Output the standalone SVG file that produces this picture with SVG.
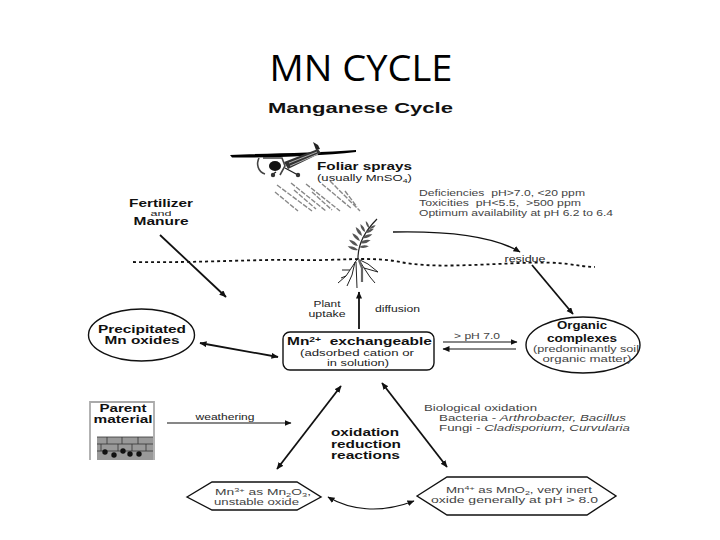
<svg xmlns="http://www.w3.org/2000/svg" width="720" height="540" viewBox="0 0 720 540">
<style>
text{font-family:"Liberation Sans",Arial,sans-serif;fill:#222;white-space:pre}
.b{font-weight:700;fill:#111}
.s{fill:#444}
.m{text-anchor:middle}
.sh{fill:#fff;stroke:#111;stroke-width:1.4}
.c{fill:none;stroke:#111;stroke-width:1.8}
.t{fill:none;stroke:#111;stroke-width:1.2}
.sp{fill:none;stroke:#888;stroke-width:1.4;stroke-dasharray:5 1.5}
.r{fill:none;stroke:#222;stroke-width:1}
</style>
<defs>
<marker id="a" markerWidth="8" markerHeight="8" refX="6.5" refY="3" orient="auto-start-reverse" markerUnits="userSpaceOnUse"><path d="M0 0L7 3L0 6z" fill="#111"/></marker>
<path id="lf" d="M0 0Q5 -3 11 0Q5 3 0 0z" fill="#555"/>
</defs>
<rect width="720" height="540" fill="#fff"/>
<text x="361" y="81" class="m" style="font-family:'Open Sans','Noto Sans',sans-serif;fill:#000" font-size="37" textLength="183" lengthAdjust="spacingAndGlyphs">MN CYCLE</text>
<text x="268" y="113" class="b" font-size="15" textLength="185" lengthAdjust="spacingAndGlyphs">Manganese Cycle</text>

<g id="connectors">
<path d="M133 262C200 263 260 259 300 260S370 256 400 262S470 265 520 263S570 266 595 267" fill="none" stroke="#111" stroke-width="1.8" stroke-dasharray="3 3"/>
<path class="c" marker-end="url(#a)" d="M160 235L226 297"/>
<path class="c" style="stroke-width:1.4" marker-end="url(#a)" d="M393 232C440 231 490 234 520 252"/>
<path class="c" marker-end="url(#a)" d="M532 265L573 314"/>
<path class="c" marker-end="url(#a)" d="M359 329V292"/>
<path class="t" marker-end="url(#a)" d="M443 342H517"/>
<path class="t" marker-end="url(#a)" d="M516 349H443"/>
<path class="c" marker-start="url(#a)" marker-end="url(#a)" d="M200 343L278 357"/>
<path class="t" marker-end="url(#a)" d="M167 423H291"/>
<path class="c" marker-start="url(#a)" marker-end="url(#a)" d="M341 386L277 469"/>
<path class="c" marker-start="url(#a)" marker-end="url(#a)" d="M382 383L447 467"/>
<path class="t" marker-start="url(#a)" marker-end="url(#a)" d="M328 497C350 510 380 514 414 501"/>
</g>

<g id="foliar-sprays">
<path d="M230 155C270 153 320 153 356 150L356 152C320 156 270 158 232 157.500z" fill="#000"/>
<path d="M313 142L318 145L320 149L316 150z" fill="#222"/>
<path d="M284 162L318 149L321 153L288 169z" fill="#333"/>
<path d="M289 163L317 152M290 166L318 154" stroke="#ccc" stroke-width=".8" fill="none"/>
<path d="M259 158C256 164 258 172 265 174M263 158H282L285 166L280 175" fill="none" stroke="#444" stroke-width="1.6"/>
<ellipse cx="275" cy="166" rx="6" ry="5" fill="#111"/>
<path d="M285 168L298 175M276 172L273 174" stroke="#222" stroke-width="1.4" fill="none"/>
<circle cx="273" cy="175" r="2.200" fill="#333"/><circle cx="298" cy="175" r="2.200" fill="#333"/>
<path class="sp" d="M275 192L298 211M277 185L312 211M291 183L326 211M294 190L316 209M306 184L340 211M312 192L332 210M322 184L352 209M330 181L360 211M345 191L357 207"/>
<text x="317" y="170" class="b" font-size="11" textLength="95" lengthAdjust="spacingAndGlyphs">Foliar sprays</text>
<text x="317" y="181" font-size="9" textLength="95" lengthAdjust="spacingAndGlyphs">(usually MnSO<tspan font-size="6" dy="2">4</tspan><tspan dy="-2">)</tspan></text>
</g>

<g id="soil-notes">
<text x="419" y="196" font-size="9" class="s" textLength="166" lengthAdjust="spacingAndGlyphs">Deficiencies  pH&gt;7.0, &lt;20 ppm</text>
<text x="419" y="206" font-size="9" class="s" textLength="162" lengthAdjust="spacingAndGlyphs">Toxicities  pH&lt;5.5,  &gt;500 ppm</text>
<text x="419" y="216" font-size="9" class="s" textLength="194" lengthAdjust="spacingAndGlyphs">Optimum availability at pH 6.2 to 6.4</text>
</g>

<g id="fertilizer">
<text x="161" y="207" class="b m" font-size="10" textLength="64" lengthAdjust="spacingAndGlyphs">Fertilizer</text>
<text x="161" y="215.500" class="m" font-size="8" textLength="21" lengthAdjust="spacingAndGlyphs">and</text>
<text x="161" y="225" class="b m" font-size="10" textLength="55" lengthAdjust="spacingAndGlyphs">Manure</text>
</g>

<g id="plant">
<path d="M358 258C358 244 364 232 377 219" fill="none" stroke="#222" stroke-width="1.200"/>
<use href="#lf" transform="translate(358 250) rotate(200)"/>
<use href="#lf" transform="translate(358 246) rotate(215)"/>
<use href="#lf" transform="translate(360 241) rotate(225)"/>
<use href="#lf" transform="translate(362 236) rotate(235)"/>
<use href="#lf" transform="translate(365 232) rotate(240) scale(.85)"/>
<use href="#lf" transform="translate(369 228) rotate(245) scale(.7)"/>
<use href="#lf" transform="translate(359 247) rotate(-5) scale(.9)"/>
<use href="#lf" transform="translate(360 243) rotate(-15)"/>
<use href="#lf" transform="translate(362 238) rotate(-20)"/>
<use href="#lf" transform="translate(365 233) rotate(-25) scale(.9)"/>
<use href="#lf" transform="translate(369 229) rotate(-30) scale(.7)"/>
<path class="r" d="M358 258L350 270L346 276L338 283M346 276L341 278M350 270L342 270M355 262L352 275L347 286M358 258L364 268L370 277L375 283M364 268L378 272M360 260L368 264L378 272"/>
<path d="M359 260L362 268V282" stroke="#666" stroke-width="2.200" fill="none"/>
<path d="M356 262L357 288" stroke="#222" stroke-width="1" fill="none"/>
</g>

<g id="residue"><text x="525" y="262" class="m" font-size="9" textLength="41" lengthAdjust="spacingAndGlyphs">residue</text></g>
<g id="plant-uptake">
<text x="327" y="307" class="m" font-size="9" textLength="27" lengthAdjust="spacingAndGlyphs">Plant</text>
<text x="327" y="317" class="m" font-size="9" textLength="37" lengthAdjust="spacingAndGlyphs">uptake</text>
</g>
<g id="diffusion"><text x="375" y="312" font-size="9" textLength="45" lengthAdjust="spacingAndGlyphs">diffusion</text></g>
<g id="ph-label"><text x="477" y="339" class="m s" font-size="9" textLength="46" lengthAdjust="spacingAndGlyphs">&gt; pH 7.0</text></g>

<g id="precipitated">
<ellipse class="sh" cx="141.500" cy="335" rx="53" ry="26"/>
<text x="142" y="333" class="b m" font-size="11" textLength="88" lengthAdjust="spacingAndGlyphs">Precipitated</text>
<text x="142" y="344" class="b m" font-size="11" textLength="75" lengthAdjust="spacingAndGlyphs">Mn oxides</text>
</g>

<g id="exchangeable">
<rect class="sh" x="283" y="332" width="151" height="38" rx="7"/>
<text x="287" y="345" class="b" font-size="10.500" textLength="145" lengthAdjust="spacingAndGlyphs">Mn<tspan font-size="7" dy="-3">2+</tspan><tspan dy="3">  exchangeable</tspan></text>
<text x="357" y="356" class="m" font-size="9" textLength="114" lengthAdjust="spacingAndGlyphs">(adsorbed cation or</text>
<text x="358" y="366" class="m" font-size="9" textLength="62" lengthAdjust="spacingAndGlyphs">in solution)</text>
</g>

<g id="organic">
<ellipse class="sh" cx="583" cy="345" rx="57" ry="28"/>
<text x="582" y="329" class="b m" font-size="10.500" textLength="50" lengthAdjust="spacingAndGlyphs">Organic</text>
<text x="582" y="342" class="b m" font-size="10.500" textLength="70" lengthAdjust="spacingAndGlyphs">complexes</text>
<text x="586" y="352" class="m s" font-size="9" textLength="106" lengthAdjust="spacingAndGlyphs">(predominantly soil</text>
<text x="587" y="362" class="m s" font-size="9" textLength="89" lengthAdjust="spacingAndGlyphs">organic matter)</text>
</g>

<g id="parent-material">
<path d="M90 460V402H154V460" fill="#fff" stroke="#aaa" stroke-width="1.800"/>
<rect x="97" y="437" width="56" height="23" fill="#999"/>
<path d="M97 437H153M97 444H153M97 451H153M107 437V444M122 437V444M138 437V444M101 444V451M118 444V451M132 444V451M146 444V451" stroke="#333" stroke-width=".8" fill="none"/>
<g fill="#111"><circle cx="105" cy="452" r="2.700"/><circle cx="114" cy="455" r="2.700"/><circle cx="123" cy="451" r="2.700"/><circle cx="130" cy="454" r="2.700"/><circle cx="139" cy="454" r="2.700"/></g>
<text x="123" y="412" class="b m" font-size="11" textLength="47" lengthAdjust="spacingAndGlyphs">Parent</text>
<text x="123" y="423" class="b m" font-size="11" textLength="59" lengthAdjust="spacingAndGlyphs">material</text>
</g>

<g id="weathering"><text x="225" y="420" class="m" font-size="9" textLength="59" lengthAdjust="spacingAndGlyphs">weathering</text></g>

<g id="redox">
<text x="331" y="436" class="b" font-size="11" textLength="68" lengthAdjust="spacingAndGlyphs">oxidation</text>
<text x="331" y="448" class="b" font-size="11" textLength="70" lengthAdjust="spacingAndGlyphs">reduction</text>
<text x="331" y="459" class="b" font-size="11" textLength="69" lengthAdjust="spacingAndGlyphs">reactions</text>
</g>

<g id="biological">
<text x="424" y="411" font-size="9" class="s" textLength="113" lengthAdjust="spacingAndGlyphs">Biological oxidation</text>
<text x="439" y="421" font-size="9" class="s" textLength="187" lengthAdjust="spacingAndGlyphs">Bacteria - <tspan font-style="italic">Arthrobacter, Bacillus</tspan></text>
<text x="439" y="431" font-size="9" class="s" textLength="191" lengthAdjust="spacingAndGlyphs">Fungi - <tspan font-style="italic">Cladisporium, Curvularia</tspan></text>
</g>

<g id="mn3">
<path class="sh" d="M187 497L212 482H297L321 497L297 510H212z"/>
<text x="215" y="495" font-size="9" class="s" textLength="96" lengthAdjust="spacingAndGlyphs">Mn<tspan font-size="6" dy="-3">3+</tspan><tspan dy="3"> as Mn</tspan><tspan font-size="6" dy="2">2</tspan><tspan dy="-2">O</tspan><tspan font-size="6" dy="2">3</tspan><tspan dy="-2">,</tspan></text>
<text x="214" y="505" font-size="9" class="s" textLength="85" lengthAdjust="spacingAndGlyphs">unstable oxide</text>
</g>

<g id="mn4">
<path class="sh" d="M417 496L447 477H587L616 496L587 515H447z"/>
<text x="446" y="493" font-size="9" class="s" textLength="146" lengthAdjust="spacingAndGlyphs">Mn<tspan font-size="6" dy="-3">4+</tspan><tspan dy="3"> as MnO</tspan><tspan font-size="6" dy="2">2</tspan><tspan dy="-2">, very inert</tspan></text>
<text x="431" y="503" font-size="9" class="s" textLength="167" lengthAdjust="spacingAndGlyphs">oxide generally at pH &gt; 8.0</text>
</g>
</svg>
